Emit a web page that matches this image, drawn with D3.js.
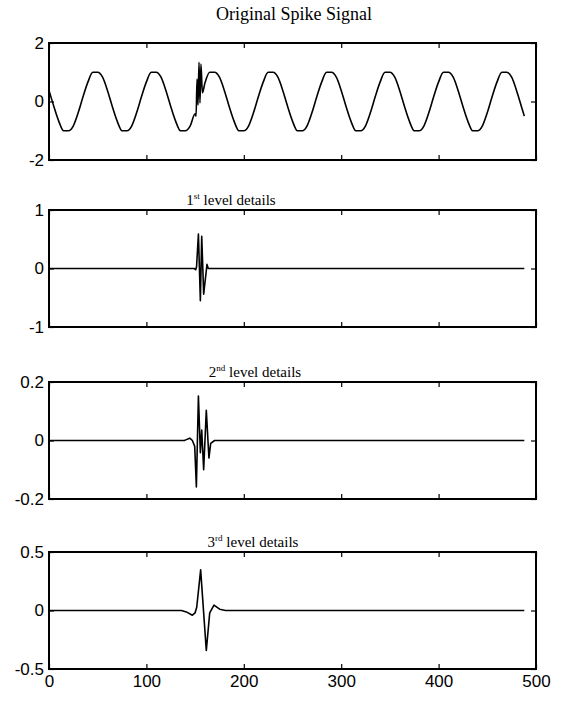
<!DOCTYPE html>
<html>
<head>
<meta charset="utf-8">
<script src="https://cdn.jsdelivr.net/npm/d3@7"></script>
<style>
  body { margin: 0; background: #fff; }
</style>
</head>
<body>
<div id="chart"></div>
<script>
// ---- data ----
const xTickValues = [0, 100, 200, 300, 400, 500];
const yDomains = [[-2, 2], [-1, 1], [-0.2, 0.2], [-0.5, 0.5]];
const yTickValues = [[-2, 0, 2], [-1, 0, 1], [-0.2, 0, 0.2], [-0.5, 0, 0.5]];
const mainTitle = 'Original Spike Signal';
const levelNumbers = ['1', '2', '3'];
const levelSuffixes = ['st', 'nd', 'rd'];
const levelText = ' level details';

// original signal: sine of period ~60 samples with a spike near 152-157
const originalSignal = [
  [0, 0.38], [5, -0.17], [10, -0.67], [15, -1], [20, -1], [25, -0.83], [30, -0.38], [35, 0.17], [40, 0.67], [45, 1], [50, 1], [55, 0.83],
  [60, 0.38], [65, -0.17], [70, -0.67], [75, -1], [80, -1], [85, -0.83], [90, -0.38], [95, 0.17], [100, 0.67], [105, 1], [110, 1], [115, 0.83],
  [120, 0.38], [125, -0.17], [130, -0.67], [135, -1], [140, -1], [145, -0.83], [150, -0.42],
  [151, -0.5], [152, 0.77], [153, -0.12], [154, 1.34], [155, -0.05], [156, 1.28], [157.5, 0.3],
  [160, 0.62], [165, 1], [170, 1], [175, 0.83],
  [180, 0.38], [185, -0.17], [190, -0.67], [195, -1], [200, -1], [205, -0.83], [210, -0.38], [215, 0.17], [220, 0.67], [225, 1], [230, 1], [235, 0.83],
  [240, 0.38], [245, -0.17], [250, -0.67], [255, -1], [260, -1], [265, -0.83], [270, -0.38], [275, 0.17], [280, 0.67], [285, 1], [290, 1], [295, 0.83],
  [300, 0.38], [305, -0.17], [310, -0.67], [315, -1], [320, -1], [325, -0.83], [330, -0.38], [335, 0.17], [340, 0.67], [345, 1], [350, 1], [355, 0.83],
  [360, 0.38], [365, -0.17], [370, -0.67], [375, -1], [380, -1], [385, -0.83], [390, -0.38], [395, 0.17], [400, 0.67], [405, 1], [410, 1], [415, 0.83],
  [420, 0.38], [425, -0.17], [430, -0.67], [435, -1], [440, -1], [445, -0.83], [450, -0.38], [455, 0.17], [460, 0.67], [465, 1], [470, 1], [475, 0.83],
  [480, 0.38], [485, -0.17], [488, -0.5]
];

const level1Details = [
  [0, 0], [149, 0], [150.6, -0.02], [151.5, 0.03], [153.4, 0.59], [155.4, -0.55],
  [156.8, 0.55], [158.8, -0.44], [162.2, 0.07], [163.5, 0], [488, 0]
];

const level2Details = [
  [0, 0], [139, 0], [141, 0.003], [144.5, 0.008], [147.2, 0], [149.6, -0.02], [151.3, -0.159],
  [153.4, 0.152], [155.4, -0.042], [156.8, 0.036], [158.8, -0.1], [161.5, 0.103],
  [164.2, -0.06], [166, -0.01], [170, 0], [488, 0]
];

const level3Details = [
  [0, 0], [136, 0], [141, -0.012], [147.2, -0.04], [150, -0.02], [151.7, 0.03], [155.7, 0.347],
  [161.5, -0.342], [165, -0.02], [169.4, 0.046], [175.2, 0.011], [181.3, 0], [488, 0]
];

const seriesList = [originalSignal, level1Details, level2Details, level3Details];

// ---- layout ----
const width = 564;
const height = 706;
const plotLeft = 49;
const plotRight = 536;
const panelTops = [43, 210, 382, 552];
const panelHeight = 117;

const svg = d3.select('#chart')
    .append('svg')
    .attr('width', width)
    .attr('height', height)
    .style('background', '#fff');

const x = d3.scaleLinear()
    .domain([0, 500])
    .range([plotLeft, plotRight]);

seriesList.forEach((series, i) => {
    const top = panelTops[i];
    const bottom = top + panelHeight;

    const y = d3.scaleLinear()
        .domain(yDomains[i])
        .range([bottom, top]);

    const panel = svg.append('g');

    const line = d3.line()
        .x(d => x(d[0]))
        .y(d => y(d[1]));
    if (i === 0) line.curve(d3.curveMonotoneX);

    panel.append('path')
        .datum(series)
        .attr('fill', 'none')
        .attr('stroke', '#000')
        .attr('stroke-width', 1.6)
        .attr('stroke-linejoin', 'round')
        .attr('d', line);

    // inward ticks on all four sides, matlab style
    const bottomAxis = panel.append('g')
        .attr('transform', `translate(0,${bottom})`)
        .call(d3.axisBottom(x)
            .tickValues(xTickValues)
            .tickSize(-5)
            .tickPadding(6)
            .tickFormat(i === seriesList.length - 1 ? d => String(d) : ''));

    const topAxis = panel.append('g')
        .attr('transform', `translate(0,${top})`)
        .call(d3.axisTop(x)
            .tickValues(xTickValues)
            .tickSize(-5)
            .tickFormat(''));

    const leftAxis = panel.append('g')
        .attr('transform', `translate(${plotLeft},0)`)
        .call(d3.axisLeft(y)
            .tickValues(yTickValues[i])
            .tickSize(-5)
            .tickPadding(5)
            .tickFormat(d => String(d)));

    const rightAxis = panel.append('g')
        .attr('transform', `translate(${plotRight},0)`)
        .call(d3.axisRight(y)
            .tickValues(yTickValues[i])
            .tickSize(-5)
            .tickFormat(''));

    [bottomAxis, topAxis, leftAxis, rightAxis].forEach(a => {
        a.select('.domain').remove();
        a.selectAll('.tick line').attr('stroke', '#000').attr('stroke-width', 1.2);
        a.selectAll('text')
            .attr('fill', '#000')
            .style('font-family', '"Liberation Sans", Arial, sans-serif')
            .style('font-size', '17px');
    });

    panel.append('rect')
        .attr('x', plotLeft)
        .attr('y', top)
        .attr('width', plotRight - plotLeft)
        .attr('height', panelHeight)
        .attr('fill', 'none')
        .attr('stroke', '#000')
        .attr('stroke-width', 2);
});

// titles
svg.append('text')
    .attr('x', 294)
    .attr('y', 20)
    .attr('text-anchor', 'middle')
    .style('font-family', '"Liberation Serif", "Times New Roman", serif')
    .style('font-size', '18px')
    .text(mainTitle);

const subtitleX = [231, 255, 253];
levelNumbers.forEach((num, i) => {
    const t = svg.append('text')
        .attr('x', subtitleX[i])
        .attr('y', panelTops[i + 1] - 5)
        .attr('text-anchor', 'middle')
        .style('font-family', '"Liberation Serif", "Times New Roman", serif')
        .style('font-size', '15px');
    t.append('tspan').text(num);
    t.append('tspan')
        .attr('dy', -6)
        .style('font-size', '9px')
        .text(levelSuffixes[i]);
    t.append('tspan')
        .attr('dy', 6)
        .text(levelText);
});
</script>
</body>
</html>
